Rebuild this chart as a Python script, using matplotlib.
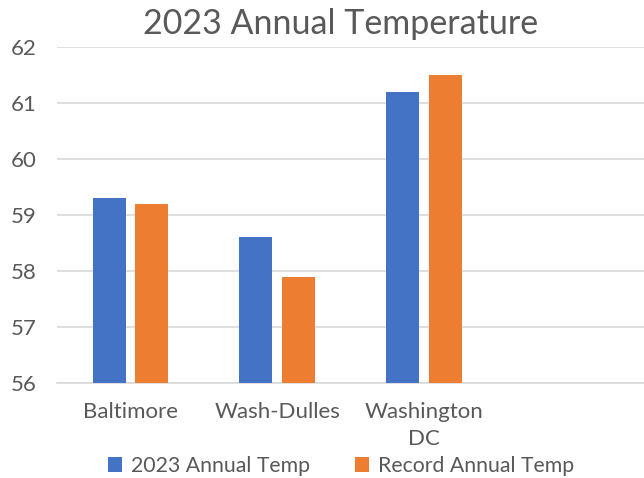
import matplotlib
matplotlib.use("Agg")
import matplotlib.pyplot as plt
import numpy as np

plt.rcParams['font.family'] = ['Lato', 'DejaVu Sans']

categories = ["Baltimore", "Wash-Dulles", "Washington\nDC", ""]
temp_2023 = [59.3, 58.6, 61.2, None]
temp_record = [59.2, 57.9, 61.5, None]
series_names = ["2023 Annual Temp", "Record Annual Temp"]
yticks = [56, 57, 58, 59, 60, 61, 62]

blue = "#4472C4"
orange = "#ED7D31"
text_color = "#595959"

fig = plt.figure(figsize=(6.44, 4.78), dpi=100)
ax = fig.add_axes([57/644, 1-383/478, 1-57/644, (383-47)/478])

x = np.arange(len(categories))
w = 0.225
off = 0.145
v1 = [v if v is not None else np.nan for v in temp_2023]
v2 = [v if v is not None else np.nan for v in temp_record]
ax.bar(x - off, v1, w, color=blue, label=series_names[0], zorder=3)
ax.bar(x + off, v2, w, color=orange, label=series_names[1], zorder=3)

ax.set_xlim(-0.5, len(categories) - 0.5)
ax.set_ylim(56, 62)
ax.set_yticks(yticks)
ax.set_yticklabels([str(t) for t in yticks], fontsize=16, color=text_color)
ax.set_xticks(x)
ax.set_xticklabels(categories, fontsize=16, color=text_color, linespacing=1.4, va='top')
ax.tick_params(axis='both', length=0)
ax.tick_params(axis='x', pad=14)
ax.tick_params(axis='y', pad=24)
for lab in ax.get_yticklabels():
    lab.set_horizontalalignment('center')
ax.yaxis.grid(True, color="#D9D9D9", linewidth=1.2, zorder=0)
for s in ['top', 'right', 'left']:
    ax.spines[s].set_visible(False)
ax.spines['bottom'].set_color("#D9D9D9")
ax.spines['bottom'].set_linewidth(1.2)

fig.text(341/644, 1-24/478, "2023 Annual Temperature", ha='center', va='center',
         fontsize=24.5, color=text_color)

handles, labels = ax.get_legend_handles_labels()
fig.legend(handles, labels, loc='center', bbox_to_anchor=(341/644, 1-466/478),
           ncol=2, frameon=False, fontsize=15.3, labelcolor=text_color,
           handlelength=0.65, handleheight=0.65, handletextpad=0.45, columnspacing=2.1,
           borderpad=0)

fig.savefig("out.png", dpi=100)
